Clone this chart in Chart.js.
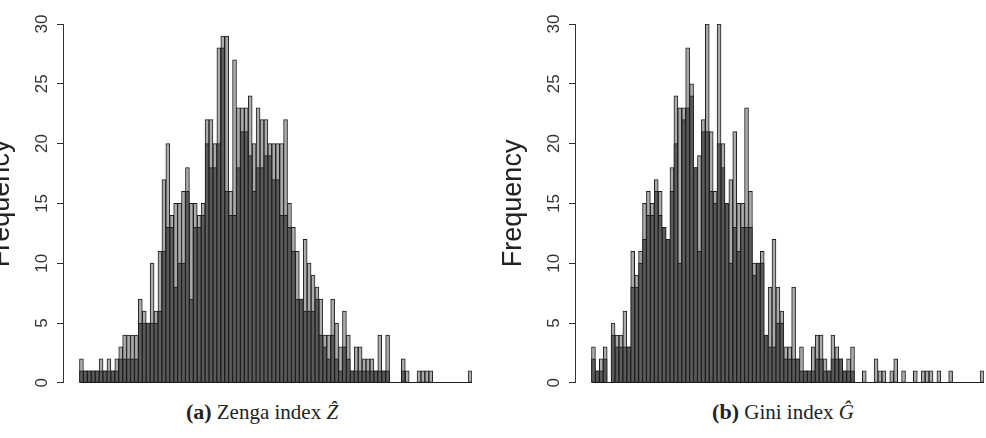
<!DOCTYPE html>
<html><head><meta charset="utf-8">
<script src="https://cdn.jsdelivr.net/npm/chart.js@4"></script>
<style>
html,body{margin:0;padding:0;background:#fff;overflow:hidden;width:986px;height:438px;position:relative;}
.cv{position:absolute;top:0;}
.cap{position:absolute;top:399px;width:320px;text-align:center;font-family:"Liberation Serif",serif;font-size:21px;line-height:26px;color:#222;white-space:nowrap;}
.cap b{font-size:22px;}
</style></head><body>
<canvas id="zenga" class="cv" width="490" height="398" style="left:-15px"></canvas>
<canvas id="gini" class="cv" width="490" height="398" style="left:497px"></canvas>
<div class="cap" style="left:102px"><b>(a)</b> Zenga index&nbsp;<i>Ẑ</i></div>
<div class="cap" style="left:623px"><b>(b)</b> Gini index&nbsp;<i>Ĝ</i></div>
<script>
// histogram bins (100 classes, index only: the original has no x-axis labels)
const bins = Array.from({length: 100}, (_, i) => i);
const yTicks = [0, 5, 10, 15, 20, 25, 30];

// Panel (a): Zenga index — two overlaid histograms (taller / shorter count per bin)
const zengaUpper = [2,1,1,1,1,2,1,2,1,2, 3,4,4,4,4,7,6,5,10,6,
  11,17,20,14,15,15,16,18,15,15, 14,15,22,22,20,28,29,29,16,27,
  23,23,23,24,20,23,22,22,20,20, 20,20,22,15,13,11,7,12,10,9,
  8,7,4,4,7,5,3,6,4,1, 3,3,2,2,2,1,4,1,4,0,
  0,0,2,1,0,0,1,1,1,1, 0,0,0,0,0,0,0,0,0,1];
const zengaLower = [1,1,1,1,1,1,1,1,1,1, 2,2,2,2,2,5,5,5,5,5,
  6,11,13,13,8,10,10,16,7,13, 13,14,20,18,18,20,28,16,14,14,
  18,21,21,19,16,18,18,19,19,17, 17,14,14,13,11,7,7,6,6,6,
  7,4,3,2,4,2,1,3,2,1, 1,1,1,1,1,1,1,1,1,0,
  0,0,1,0,0,0,0,0,0,0, 0,0,0,0,0,0,0,0,0,0];

// Panel (b): Gini index
const giniUpper = [3,1,2,3,0,5,4,4,6,3, 11,9,11,15,16,15,17,16,13,12,
  18,24,23,23,28,25,18,19,22,30, 21,16,30,20,15,17,21,15,15,23,
  16,10,10,11,4,8,12,8,6,3, 3,8,2,3,1,1,3,4,4,2,
  1,4,3,2,1,2,3,0,0,1, 0,0,2,1,1,0,1,2,0,1,
  0,0,1,0,1,1,1,0,1,0, 0,1,0,0,0,0,0,0,0,1];
const giniLower = [2,1,1,2,0,4,3,3,3,3, 8,8,10,12,14,14,16,14,13,12,
  16,20,10,22,23,24,18,11,21,21, 16,15,20,18,15,10,13,11,13,13,
  13,9,10,10,4,3,3,5,5,2, 2,2,2,1,1,1,1,2,2,1,
  1,2,2,2,1,1,1,0,0,0, 0,0,0,0,0,0,0,0,0,0,
  0,0,0,0,0,0,0,0,0,0, 0,0,0,0,0,0,0,0,0,0];

const LIGHT = '#ababab', DARK = '#5a5a5a', EDGE = '#1e1e1e', AXIS = '#333333';

const baselinePlugin = {
  id: 'baseline',
  afterDatasetsDraw(chart) {
    const {ctx, scales: {x, y}} = chart;
    const y0 = Math.round(y.getPixelForValue(0)) - 0.5;
    ctx.save();
    ctx.strokeStyle = EDGE; ctx.lineWidth = 1;
    ctx.beginPath();
    ctx.moveTo(x.getPixelForValue(bins[0] - 0.5), y0);
    ctx.lineTo(x.getPixelForValue(bins[bins.length - 1] + 0.5), y0);
    ctx.stroke();
    ctx.restore();
  }
};

function histChart(id, upper, lower) {
  const ds = (vals, color, order) => ({
    data: bins.map((b, i) => ({x: b, y: vals[i]})),
    backgroundColor: color, borderColor: EDGE, borderWidth: 1, borderSkipped: false,
    grouped: false, categoryPercentage: 1, barPercentage: 1, order
  });
  return new Chart(document.getElementById(id), {
    type: 'bar',
    data: { datasets: [ds(lower, DARK, 0), ds(upper, LIGHT, 1)] },
    options: {
      responsive: false, animation: false, devicePixelRatio: 1,
      layout: { padding: { left: 0, right: 3, top: 24, bottom: 12 } },
      plugins: { legend: { display: false }, tooltip: { enabled: false } },
      scales: {
        x: { type: 'linear', min: -4.7, max: 99.5, offset: false, display: false },
        y: {
          min: yTicks[0], max: yTicks[yTicks.length - 1],
          afterBuildTicks: s => { s.ticks = yTicks.map(v => ({value: v})); },
          ticks: { minRotation: 90, maxRotation: 90, crossAlign: 'center', padding: 5,
                   color: AXIS, font: { family: 'Liberation Sans', size: 17 } },
          grid: { drawOnChartArea: false, drawTicks: true, tickLength: 6, tickColor: AXIS, tickWidth: 1 },
          border: { display: true, color: AXIS, width: 1 },
          title: { display: true, text: 'Frequency', color: '#222',
                   font: { family: 'Liberation Sans', size: 27 }, padding: 0 },
          afterFit: s => { s.width = 78; }
        }
      }
    },
    plugins: [baselinePlugin]
  });
}

histChart('zenga', zengaUpper, zengaLower);
histChart('gini', giniUpper, giniLower);
</script>
</body></html>
